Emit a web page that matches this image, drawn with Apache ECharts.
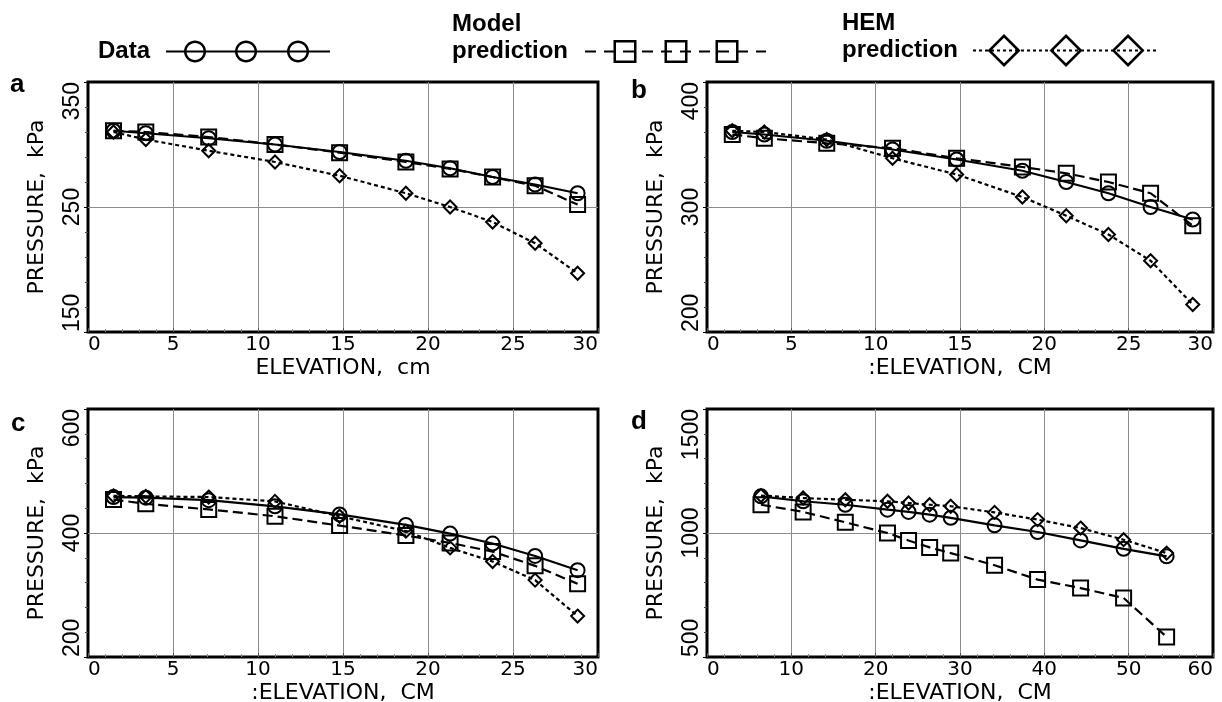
<!DOCTYPE html>
<html>
<head>
<meta charset="utf-8">
<script src="https://cdn.jsdelivr.net/npm/echarts@6/dist/echarts.min.js"></script>
<style>
  html, body { margin: 0; padding: 0; background: #fff; }
  #main { width: 1222px; height: 702px; }
</style>
</head>
<body>
<div id="main"></div>
<script>
// elevations (cm) of the pressure taps
var elevShort = [1.5, 3.4, 7.1, 11.0, 14.8, 18.7, 21.3, 23.8, 26.3, 28.8];
var elevLong = [6.4, 11.4, 16.4, 21.4, 23.9, 26.4, 28.9, 34.1, 39.2, 44.3, 49.4, 54.5];

// pressures, kPa
var dataA = [311, 309, 305, 300, 294, 287, 281, 274, 268, 261];
var modelA = [311, 310, 306, 300, 293.5, 286, 280.5, 274, 267, 252];
var hemA = [310, 304, 295, 286, 275, 261, 250, 238, 221, 197];

var dataB = [360, 358, 353, 346, 338, 329, 320, 311, 300, 290];
var modelB = [358, 355, 351, 347, 339, 332, 327, 320, 311, 285];
var hemB = [361, 360, 354, 339, 326, 308, 293, 278, 257, 222];

var dataC = [458, 457, 453, 443, 430, 413, 399, 383, 363, 340];
var modelC = [454, 447, 438, 427, 412, 396, 384, 370, 347, 318];
var hemC = [460, 459, 458, 451, 427, 403, 376, 354, 324, 266];

var dataD = [1148, 1128, 1114, 1094, 1085, 1074, 1061, 1031, 1004, 970, 936, 906];
var modelD = [1114, 1085, 1043, 1000, 970, 942, 919, 870, 812, 778, 738, 581];
var hemD = [1151, 1141, 1134, 1128, 1121, 1114, 1108, 1083, 1054, 1020, 973, 919];

// axis ranges [min, max, interval]
var xRangeShort = [0, 30, 5];
var xRangeLong = [0, 60, 10];
var yRangeA = [150, 350, 100];
var yRangeB = [200, 400, 100];
var yRangeC = [200, 600, 200];
var yRangeD = [500, 1500, 500];

var panelLetters = ['a', 'b', 'c', 'd'];
var xNames = ['ELEVATION,  cm', ':ELEVATION,  CM', ':ELEVATION,  CM', ':ELEVATION,  CM'];
var yName = 'PRESSURE,  kPa';
var seriesNames = ['Data', 'Model prediction', 'HEM prediction'];

var panels = [
  { x: elevShort, xr: xRangeShort, yr: yRangeA, ys: [dataA, modelA, hemA] },
  { x: elevShort, xr: xRangeShort, yr: yRangeB, ys: [dataB, modelB, hemB] },
  { x: elevShort, xr: xRangeShort, yr: yRangeC, ys: [dataC, modelC, hemC] },
  { x: elevLong, xr: xRangeLong, yr: yRangeD, ys: [dataD, modelD, hemD] }
];

var gridBoxes = [
  { left: 88, top: 82, width: 510, height: 250 },
  { left: 707, top: 82, width: 506, height: 250 },
  { left: 88, top: 409, width: 510, height: 248 },
  { left: 707, top: 409, width: 506, height: 248 }
];
var letterPos = [[10, 72], [631, 78], [11, 411], [631, 409]];

var looks = {
  'Data': { symbol: 'circle', size: 14, dash: 'solid', z: 4 },
  'Model prediction': { symbol: 'rect', size: 15, dash: [10, 5], z: 3 },
  'HEM prediction': { symbol: 'diamond', size: 13, dash: [4, 3], z: 2 }
};

// ---- legend icons: line + three hollow markers as one filled path ----
function f(v) { return v.toFixed(2); }
function rectPath(x, y, w, h) {
  return 'M' + f(x) + ' ' + f(y) + 'L' + f(x + w) + ' ' + f(y) + 'L' + f(x + w) + ' ' + f(y + h) + 'L' + f(x) + ' ' + f(y + h) + 'Z';
}
function polyPath(pts) {
  return pts.map(function (p, i) { return (i ? 'L' : 'M') + f(p[0]) + ' ' + f(p[1]); }).join('') + 'Z';
}
function circlePts(cx, cy, r, rev) {
  var pts = [];
  for (var k = 0; k < 36; k++) {
    var a = (rev ? -1 : 1) * k / 36 * Math.PI * 2;
    pts.push([cx + r * Math.cos(a), cy + r * Math.sin(a)]);
  }
  return pts;
}
function circleRing(cx, cy, r, t) {
  return polyPath(circlePts(cx, cy, r, false)) + polyPath(circlePts(cx, cy, r - t, true));
}
function squareRing(cx, cy, h, t) {
  var o = [[cx - h, cy - h], [cx + h, cy - h], [cx + h, cy + h], [cx - h, cy + h]];
  var i = h - t;
  var n = [[cx - i, cy - i], [cx - i, cy + i], [cx + i, cy + i], [cx + i, cy - i]];
  return polyPath(o) + polyPath(n);
}
function diamondRing(cx, cy, h, t) {
  var o = [[cx, cy - h], [cx + h, cy], [cx, cy + h], [cx - h, cy]];
  var i = h - t * 1.414;
  var n = [[cx, cy - i], [cx - i, cy], [cx, cy + i], [cx + i, cy]];
  return polyPath(o) + polyPath(n);
}
function dashes(w, cy, th, on, off) {
  var s = '';
  for (var x = 0; x < w; x += on + off) s += rectPath(x, cy - th / 2, Math.min(on, w - x), th);
  return s;
}

var iconData = 'path://' + rectPath(0, 10, 164, 2) +
  circleRing(29, 11, 11, 2.5) + circleRing(80, 11, 11, 2.5) + circleRing(132, 11, 11, 2.5);
var iconModel = 'path://' + dashes(181, 11.5, 2, 11, 8) +
  squareRing(40, 11.5, 11.5, 2.5) + squareRing(91, 11.5, 11.5, 2.5) + squareRing(142, 11.5, 11.5, 2.5);
var iconHem = 'path://' + dashes(183, 16.5, 2, 3, 3) +
  diamondRing(31, 16.5, 16.5, 2.6) + diamondRing(93, 16.5, 16.5, 2.6) + diamondRing(155, 16.5, 16.5, 2.6);

function legendFor(name, icon, left, top, w, h, pad) {
  return {
    data: [{ name: name, icon: icon }],
    left: left, top: top, padding: 0,
    itemWidth: w, itemHeight: h,
    align: 'right', selectedMode: false,
    itemStyle: { color: '#000', borderWidth: 0 },
    formatter: function (n) {
      return n.split(' ').map(function (s) { return '{t|' + s + '}'; }).join('\n');
    },
    textStyle: {
      color: '#000', fontFamily: 'Liberation Sans', fontWeight: 'bold', fontSize: 24,
      lineHeight: 27, padding: pad,
      rich: { t: { color: '#000', fontFamily: 'Liberation Sans', fontWeight: 'bold', fontSize: 24, lineHeight: 27, align: 'left' } }
    }
  };
}

function plainNumber(v) { return String(v); }

var grids = [], xAxes = [], yAxes = [], series = [], titles = [];

panels.forEach(function (p, i) {
  grids.push(Object.assign({
    show: true, borderColor: '#000', borderWidth: 3,
    backgroundColor: 'transparent', outerBoundsMode: 'none', containLabel: false
  }, gridBoxes[i]));

  xAxes.push({
    gridIndex: i, type: 'value', min: p.xr[0], max: p.xr[1], interval: p.xr[2],
    name: xNames[i], nameLocation: 'middle', nameGap: 25, nameMoveOverlap: false,
    nameTextStyle: { fontFamily: 'DejaVu Sans', fontSize: 22, color: '#000' },
    axisLine: { show: false },
    axisTick: { show: true, inside: true, length: 4, lineStyle: { color: '#555' } },
    minorTick: { show: true, splitNumber: 5, length: 3, lineStyle: { color: '#888' } },
    axisLabel: {
      margin: 3, fontFamily: 'DejaVu Sans', fontSize: 20, color: '#000',
      alignMinLabel: 'left', alignMaxLabel: 'right', formatter: plainNumber
    },
    splitLine: { show: true, showMinLine: false, showMaxLine: false, lineStyle: { color: '#8c8c8c', width: 1 } }
  });

  yAxes.push({
    gridIndex: i, type: 'value', min: p.yr[0], max: p.yr[1], interval: p.yr[2],
    name: yName, nameLocation: 'middle', nameGap: 40, nameRotate: 90, nameMoveOverlap: false,
    nameTextStyle: { fontFamily: 'DejaVu Sans', fontSize: 22, color: '#000' },
    axisLine: { show: false },
    axisTick: { show: true, inside: false, length: 4, lineStyle: { color: '#000' } },
    minorTick: { show: true, splitNumber: 5, length: 3, lineStyle: { color: '#444' } },
    axisLabel: {
      rotate: 90, margin: 4, fontFamily: "'Liberation Sans Narrow', 'Liberation Sans'", fontSize: 23, color: '#000',
      alignMinLabel: 'left', alignMaxLabel: 'right', formatter: plainNumber
    },
    splitLine: { show: true, showMinLine: false, showMaxLine: false, lineStyle: { color: '#8c8c8c', width: 1 } }
  });

  // HEM first, data last so the solid line sits on top
  [2, 1, 0].forEach(function (k) {
    var name = seriesNames[k];
    var lk = looks[name];
    series.push({
      name: name, type: 'line', xAxisIndex: i, yAxisIndex: i,
      data: p.x.map(function (x, j) { return [x, p.ys[k][j]]; }),
      symbol: lk.symbol, symbolSize: lk.size, z: lk.z,
      lineStyle: { color: '#000', width: 2.2, type: lk.dash },
      itemStyle: { color: 'rgba(0,0,0,0)', borderColor: '#000', borderWidth: 2 },
      emphasis: { disabled: true },
      animation: false
    });
  });

  titles.push({
    text: panelLetters[i], left: letterPos[i][0], top: letterPos[i][1], padding: 0,
    textStyle: { fontFamily: 'Liberation Sans', fontWeight: 'bold', fontSize: 26, color: '#000' }
  });
});

var chart = echarts.init(document.getElementById('main'));
chart.setOption({
  backgroundColor: '#fff',
  animation: false,
  title: titles,
  legend: [
    legendFor('Data', iconData, 98, 38, 164, 22, [0, 11, 0, 0]),
    legendFor('Model prediction', iconModel, 452, 11, 181, 23, [0, 12, 27, 0]),
    legendFor('HEM prediction', iconHem, 842, 10, 183, 33, [0, 10, 27, 0])
  ],
  grid: grids,
  xAxis: xAxes,
  yAxis: yAxes,
  series: series
});
</script>
</body>
</html>
